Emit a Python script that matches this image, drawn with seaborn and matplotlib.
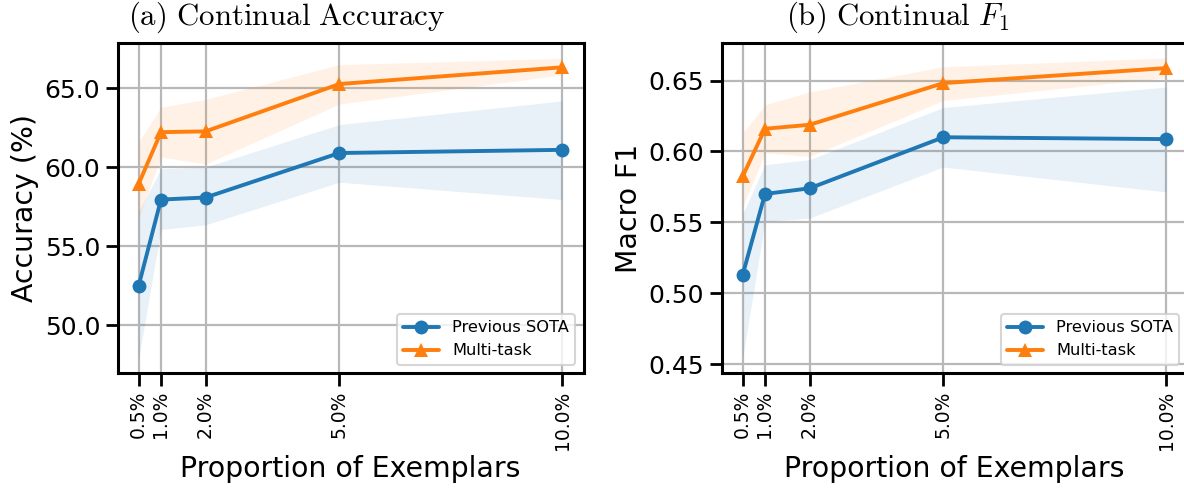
import numpy as np
import pandas as pd
import matplotlib
matplotlib.use("Agg")
import matplotlib.pyplot as plt
import seaborn as sns

# Exemplar proportions (%) and tick labels
proportions = [0.5, 1.0, 2.0, 5.0, 10.0]
tick_labels = ["0.5%", "1.0%", "2.0%", "5.0%", "10.0%"]

# Continual accuracy (%)
acc_prev = [52.5, 57.95, 58.08, 60.9, 61.1]
acc_prev_lo = [47.9, 56.05, 56.35, 59.05, 57.95]
acc_prev_hi = [57.2, 59.9, 60.0, 62.7, 64.2]
acc_multi = [58.95, 62.22, 62.27, 65.27, 66.33]
acc_multi_lo = [56.8, 60.65, 60.2, 64.0, 65.85]
acc_multi_hi = [61.6, 63.8, 64.3, 66.5, 66.9]

# Continual macro F1
f1_prev = [0.513, 0.570, 0.574, 0.610, 0.6087]
f1_prev_lo = [0.454, 0.5506, 0.553, 0.589, 0.5714]
f1_prev_hi = [0.556, 0.5906, 0.5942, 0.631, 0.6455]
f1_multi = [0.5824, 0.616, 0.6188, 0.6482, 0.6588]
f1_multi_lo = [0.561, 0.599, 0.5965, 0.636, 0.652]
f1_multi_hi = [0.613, 0.633, 0.642, 0.6598, 0.666]

methods = ["Previous SOTA", "Multi-task"]
palette = {"Previous SOTA": "#1f77b4", "Multi-task": "#ff7f0e"}
marker_map = {"Previous SOTA": "o", "Multi-task": "^"}

sns.set_theme(context="talk", style="ticks")
plt.rcParams["mathtext.fontset"] = "cm"
plt.rcParams["font.family"] = ["DejaVu Sans"]
for key in ["text.color", "axes.labelcolor", "xtick.color", "ytick.color",
            "axes.edgecolor"]:
    plt.rcParams[key] = "black"

fig = plt.figure(figsize=(11.84, 4.91), dpi=100)
W, H = 1184, 491
ax_w = 466 / W
ax_h = 330 / H
ax_b = (H - 373) / H
ax1 = fig.add_axes([117.5 / W, ax_b, ax_w, ax_h])
ax2 = fig.add_axes([721.5 / W, ax_b, ax_w, ax_h])


def draw(ax, series, ylim, yticks, yfmt, ylabel):
    for name, (mid, lo, hi) in zip(methods, series):
        df = pd.DataFrame({"prop": proportions, "val": mid})
        col = palette[name]
        ax.fill_between(proportions, lo, hi, color=col, alpha=0.1, linewidth=0)
        sns.lineplot(data=df, x="prop", y="val", ax=ax, color=col,
                     marker=marker_map[name], markersize=10, markeredgewidth=0,
                     linewidth=2.8, label=name)
    ax.set_xlim(0.025, 10.475)
    ax.set_ylim(*ylim)
    ax.set_xticks(proportions)
    ax.set_xticklabels(tick_labels, rotation=90, fontsize=13.5)
    ax.set_yticks(yticks)
    ax.set_yticklabels([yfmt.format(v) for v in yticks], fontsize=18)
    ax.grid(True, color="#b8b8b8", linewidth=1.6)
    ax.set_axisbelow(True)
    ax.set_xlabel("Proportion of Exemplars", fontsize=20.4, color="black")
    ax.set_ylabel(ylabel, fontsize=20.4, color="black")
    for sp in ax.spines.values():
        sp.set_linewidth(2.2)
        sp.set_color("black")
    ax.tick_params(width=2.0, length=9, color="black", labelcolor="black")
    leg = ax.legend(loc="lower right", fontsize=11.7, frameon=True,
                    handlelength=2.2, borderaxespad=0.5)
    for t in leg.get_texts():
        t.set_color("black")


draw(ax1,
     [(acc_prev, acc_prev_lo, acc_prev_hi), (acc_multi, acc_multi_lo, acc_multi_hi)],
     (46.96, 67.87), [50.0, 55.0, 60.0, 65.0], "{:.1f}", "Accuracy (%)")
draw(ax2,
     [(f1_prev, f1_prev_lo, f1_prev_hi), (f1_multi, f1_multi_lo, f1_multi_hi)],
     (0.4437, 0.6765), [0.45, 0.50, 0.55, 0.60, 0.65], "{:.2f}", "Macro F1")

fig.text(287 / W, 1 - 17 / H, r"$\mathrm{(a)\ Continual\ Accuracy}$",
         ha="center", va="center", fontsize=22.2, color="black")
fig.text(898 / W, 1 - 17 / H, r"$\mathrm{(b)\ Continual\ }F_1$",
         ha="center", va="center", fontsize=22.2, color="black")

fig.savefig("out.png", dpi=100)
